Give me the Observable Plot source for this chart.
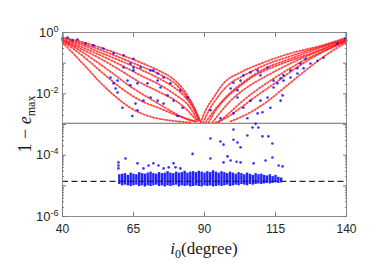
<!DOCTYPE html>
<html><head><meta charset="utf-8">
<script src="https://cdn.jsdelivr.net/npm/d3@7"></script>
<script src="https://cdn.jsdelivr.net/npm/@observablehq/plot@0.6"></script>
<style>body{margin:0;background:#fff}#chart{width:389px;height:275px}</style>
</head><body><div id="chart"></div>
<script>
// ---- tick values ----
const xTicks = [40, 65, 90, 115, 140];
const yLabelTicks = [1e0, 1e-2, 1e-4, 1e-6];
const yMajorTicks = [1e0, 1e-1, 1e-2, 1e-3, 1e-4, 1e-5, 1e-6];
const yMinorMultipliers = [2, 3, 4, 5, 6, 7, 8, 9];

// ---- reference levels ----
const solidLevel = 1.1e-3;
const dashedLevel = 1.4e-5;

// ---- red point families [i0 (deg), 1 - e_max] ----
const redL1 = [[40,0.69],[46.3,0.51],[53.4,0.32],[60.4,0.19],[67.5,0.105],[74.5,0.054],[78.7,0.032],[82.3,0.015],[85.1,0.006],[87.2,0.0025],[88.6,0.00126]];
const redL1b = [[40,0.66],[46.3,0.46],[53.4,0.27],[60.4,0.15],[67.5,0.08],[74.5,0.042],[79.5,0.022],[83,0.01],[86,0.004],[88.3,0.00126]];
const redL2 = [[40,0.59],[46.3,0.41],[53.4,0.22],[60.4,0.12],[67.5,0.062],[74.5,0.03],[79.8,0.015],[83.3,0.0076],[86.1,0.0033],[88.2,0.00126]];
const redL2b = [[40,0.57],[46.3,0.35],[53.4,0.18],[60.4,0.088],[67.5,0.04],[74.5,0.019],[80,0.009],[84.5,0.004],[87.8,0.00126]];
const redL3 = [[40,0.55],[46.3,0.3],[53.4,0.14],[60.4,0.058],[67.5,0.023],[74.5,0.011],[79.8,0.006],[84,0.0029],[87.5,0.00126]];
const redL3b = [[40,0.53],[45.5,0.28],[51.5,0.12],[57.5,0.048],[64,0.017],[71,0.0068],[77.5,0.003],[83,0.0016],[87,0.00122]];
const redL4 = [[40,0.51],[44.6,0.26],[49.9,0.105],[55.1,0.04],[60.4,0.016],[67.5,0.006],[74.5,0.0033],[80.8,0.0019],[86.8,0.00126]];
const redL5 = [[40,0.47],[43.5,0.22],[48.1,0.078],[53.4,0.023],[58.7,0.0081],[63.9,0.0035],[71,0.0018],[78,0.00135],[85.1,0.00117]];
const redR1 = [[88.6,0.00117],[90.4,0.0029],[93.2,0.0076],[96.7,0.022],[102.7,0.05],[110.8,0.105],[120.3,0.21],[131.9,0.39],[140,0.69]];
const redR1b = [[89.5,0.00117],[91.5,0.0028],[94.5,0.0075],[98.5,0.02],[103.5,0.038],[111,0.085],[120.3,0.17],[131,0.35],[140,0.63]];
const redR2 = [[90.4,0.00117],[91.4,0.0016],[94.9,0.0042],[99.2,0.011],[104.4,0.027],[111.5,0.068],[120.3,0.14],[130.8,0.32],[140,0.59]];
const redR2b = [[91.5,0.00117],[93.5,0.0025],[97,0.0065],[101.5,0.015],[107,0.036],[115,0.08],[124,0.16],[132,0.3],[140,0.57]];
const redR3 = [[92.8,0.00117],[95.6,0.0025],[99.2,0.006],[104.4,0.015],[111.5,0.037],[120.3,0.098],[130.8,0.26],[140,0.55]];
const redR3b = [[95,0.00117],[99,0.0025],[104,0.0065],[110,0.017],[117,0.045],[124,0.11],[132,0.25],[140,0.53]];
const redR4 = [[93.9,0.00117],[97.4,0.0016],[102.7,0.0035],[108,0.0081],[115,0.023],[122,0.068],[130.8,0.21],[140,0.51]];
const redR5 = [[99.2,0.00126],[106.2,0.0025],[112.5,0.006],[118.5,0.017],[125.6,0.058],[132.6,0.18],[140,0.47]];

// ---- blue scattered points [i0, 1 - e_max] ----
const bluePoints = [
 [40,0.63],[41.8,0.69],[43.5,0.55],[45.3,0.59],[48.1,0.44],[50.9,0.38],[54.4,0.30],[58,0.21],[61.5,0.18],[65,0.14],
 [56.9,0.034],[58,0.022],[62.9,0.027],[63.9,0.019],[66.4,0.022],[61.5,0.072],[65,0.058],[63.9,0.098],[67.5,0.072],[71,0.058],
 [73.5,0.046],[75.6,0.034],[69.9,0.022],[74.5,0.016],[59.4,0.011],[58.7,0.015],[61.1,0.0035],[64.6,0.0019],[66.4,0.0029],[65.7,0.0048],
 [68.5,0.006],[71,0.0076],[73.5,0.006],[75.6,0.0048],[77,0.0089],[79.1,0.006],[80.5,0.0019],[82.3,0.0035],[84,0.0076],[81.5,0.013],
 [78,0.022],[73.5,0.027],[72,0.058],[65,0.072],[59.4,0.027],
 [99.2,0.015],[100.2,0.023],[102.7,0.027],[103.7,0.04],[106.2,0.05],[108.7,0.058],[109.7,0.04],[112.2,0.072],[114.3,0.027],[116.8,0.032],
 [117.8,0.04],[120.3,0.058],[122.7,0.068],[123.8,0.098],[125.6,0.14],[101.6,0.0076],[106.2,0.006],[103.7,0.0035],[100.2,0.0023],[95.6,0.0016],
 [92.1,0.0029],[109.7,0.006],[112.2,0.0076],[113.2,0.0035],[116.8,0.006],[117.5,0.0089],[108.7,0.0023],[110.4,0.0025],[105.1,0.0016],[101.6,0.013],
 [139.6,0.63],[136.8,0.44],[127.3,0.098],[124.9,0.068],[122.7,0.046],[120.3,0.034],[117.8,0.027],[115.7,0.022],[114.3,0.016],[129.8,0.12],[131.9,0.15],
 [62.2,7.8e-5],[85.8,1.1e-4],[92.1,3.5e-4],[95.6,2.8e-4],[96.7,2.2e-4],[100.2,6.9e-4],[100.2,3.2e-4],[101.6,2.6e-4],[102.7,1.8e-4],[98.1,9.1e-5],
 [92.1,7.8e-5],[105.1,4.4e-4],[106.9,8.0e-4],[108,1.05e-3],[109,8.0e-4],[110.4,4.1e-4],[112.5,4.1e-4],[113.9,2.4e-4],[113.9,8.4e-5],[96.7,5.8e-5],
 [99.2,6.7e-5],[102.7,5.8e-5],[107.3,5.4e-5],[111.5,6.7e-5],[116.1,4.6e-5],[117.5,4.3e-5],[59.7,4.6e-5],[59.7,3.7e-5],[66.4,5.4e-5],[72,5.4e-5],
 [73.8,4.6e-5],[79.1,5.4e-5],[79.8,4.0e-5],[68.5,3.7e-5],[75.6,3.7e-5],[81.5,3.7e-5],[59.7,5.8e-5],[70.3,4.6e-5],[77.4,4.0e-5],[101.3,6.1e-5]
];

// ---- dense blue band: one column per degree ----
const bandX = [60,61,62,63,64,65,66,67,68,69,70,71,72,73,74,75,76,77,78,79,80,81,82,83,84,85,86,87,88,89,
 90,91,92,93,94,95,96,97,98,99,100,101,102,103,104,105,106,107,108,109,110,111,112,113,114,115,116,117];
const bandHi = [2.3e-5,2.4e-5,2.5e-5,2.2e-5,2.6e-5,2.4e-5,2.3e-5,2.7e-5,2.5e-5,2.4e-5,
 2.6e-5,2.8e-5,2.5e-5,2.4e-5,2.7e-5,2.5e-5,2.6e-5,2.9e-5,2.6e-5,2.5e-5,
 2.8e-5,2.6e-5,2.7e-5,3.0e-5,2.6e-5,2.8e-5,2.9e-5,2.7e-5,3.0e-5,2.8e-5,
 2.6e-5,2.9e-5,2.7e-5,3.1e-5,2.8e-5,2.6e-5,2.9e-5,2.7e-5,2.5e-5,2.8e-5,
 2.6e-5,2.4e-5,2.7e-5,2.5e-5,2.3e-5,2.6e-5,2.4e-5,2.2e-5,2.5e-5,2.3e-5,
 2.4e-5,2.2e-5,2.1e-5,2.3e-5,2.0e-5,2.2e-5,1.9e-5,1.8e-5];
const bandLo = [1.10e-5,1.00e-5,1.05e-5,1.00e-5,0.95e-5,1.00e-5,1.05e-5,0.95e-5,1.00e-5,0.92e-5,
 1.00e-5,0.95e-5,1.00e-5,1.05e-5,0.95e-5,1.00e-5,0.92e-5,1.00e-5,0.95e-5,1.00e-5,
 1.05e-5,0.92e-5,1.00e-5,0.95e-5,1.00e-5,0.92e-5,0.95e-5,1.00e-5,0.95e-5,0.92e-5,
 1.00e-5,0.95e-5,1.00e-5,0.92e-5,0.95e-5,1.00e-5,0.95e-5,1.00e-5,1.05e-5,0.95e-5,
 1.00e-5,1.05e-5,1.00e-5,1.10e-5,1.05e-5,1.00e-5,1.10e-5,1.05e-5,1.10e-5,1.15e-5,
 1.10e-5,1.15e-5,1.20e-5,1.15e-5,1.20e-5,1.25e-5,1.20e-5,1.25e-5];

// ---- build tables ----
const redFamilies = {L1: redL1, L1b: redL1b, L2: redL2, L2b: redL2b, L3: redL3, L3b: redL3b, L4: redL4, L5: redL5,
  R1: redR1, R1b: redR1b, R2: redR2, R2b: redR2b, R3: redR3, R3b: redR3b, R4: redR4, R5: redR5};
const redRows = Object.entries(redFamilies).flatMap(([k, pts]) => pts.map(([x, y]) => ({curve: k, x, y})));
const blueRows = bluePoints.map(([x, y]) => ({x, y}));
const bandRows = bandX.map((x, i) => ({x, lo: bandLo[i], hi: bandHi[i]}));
const yMinorTicks = yMajorTicks.slice(0, -1).flatMap(d => yMinorMultipliers.map(m => m * d / 10));

const tickStroke = "#7a7a7a";
const blank = () => "";

const plot = Plot.plot({
  width: 389, height: 275,
  marginLeft: 62, marginRight: 43, marginTop: 32, marginBottom: 59,
  style: {fontFamily: "'Liberation Sans', Arial, sans-serif", fontSize: "12px", color: "#262626", background: "white"},
  x: {domain: [40, 140], label: null},
  y: {type: "log", domain: [1e-6, 1], label: null},
  marks: [
    Plot.ruleY([solidLevel], {stroke: "#6a6a6a", strokeWidth: 1.2}),
    Plot.ruleX(bandRows, {x: "x", y1: "lo", y2: "hi", stroke: "#0a0aff", strokeWidth: 2.4, strokeOpacity: 0.9}),
    Plot.ruleY([dashedLevel], {stroke: "#2b2b2b", strokeWidth: 1.3, strokeDasharray: "6,3.5"}),
    Plot.line(redRows, {x: "x", y: "y", z: "curve", stroke: "#ff1a1a", strokeWidth: 1.8, strokeOpacity: 0.8, strokeDasharray: "1.4,1.9", curve: "monotone-x"}),
    Plot.dot(blueRows, {x: "x", y: "y", r: 1.3, fill: "#1010ff", fillOpacity: 0.85}),
    Plot.frame({stroke: "#8c8c8c"}),
    Plot.axisX(xTicks, {anchor: "bottom", tickSize: 0, tickPadding: 8, fontSize: 12, label: null}),
    Plot.axisX(xTicks, {anchor: "bottom", tickSize: 4, dy: -4, tickFormat: blank, stroke: tickStroke, label: null}),
    Plot.axisX(xTicks, {anchor: "top", tickSize: 4, dy: 4, tickFormat: blank, stroke: tickStroke, label: null}),
    Plot.axisY(yLabelTicks, {anchor: "left", tickSize: 0, tickPadding: 4, fontSize: 13, tickFormat: d => "10^" + Math.round(Math.log10(d)), label: null}),
    Plot.axisY(yMajorTicks, {anchor: "left", tickSize: 4, dx: 4, tickFormat: blank, stroke: tickStroke, label: null}),
    Plot.axisY(yMajorTicks, {anchor: "right", tickSize: 4, dx: -4, tickFormat: blank, stroke: tickStroke, label: null}),
    Plot.axisY(yMinorTicks, {anchor: "left", tickSize: 2, dx: 2, tickFormat: blank, stroke: tickStroke, label: null}),
    Plot.axisY(yMinorTicks, {anchor: "right", tickSize: 2, dx: -2, tickFormat: blank, stroke: tickStroke, label: null})
  ]
});

// superscript exponents on the y tick labels
plot.querySelectorAll('g[aria-label="y-axis tick label"] text').forEach(t => {
  const s = t.textContent;
  if (!s.includes("^")) return;
  const [base, exp] = s.split("^");
  t.textContent = "";
  const ns = "http://www.w3.org/2000/svg";
  const a = document.createElementNS(ns, "tspan"); a.textContent = base; t.appendChild(a);
  const b = document.createElementNS(ns, "tspan"); b.textContent = exp;
  b.setAttribute("dy", "-0.55em"); b.setAttribute("font-size", "9"); t.appendChild(b);
});

// axis titles (LaTeX-like serif)
const svg = d3.select(plot);
const serif = "'Liberation Serif', 'DejaVu Serif', serif";
const xt = svg.append("text").attr("x", 204).attr("y", 254).attr("text-anchor", "middle")
  .attr("font-family", serif).attr("font-size", 17).attr("fill", "#1a1a1a");
xt.append("tspan").attr("font-style", "italic").text("i");
xt.append("tspan").attr("font-size", 12).attr("dy", 4).text("0");
xt.append("tspan").attr("dy", -4).text("(degree)");
const yt = svg.append("text").attr("transform", "translate(31,124) rotate(-90)").attr("text-anchor", "middle")
  .attr("font-family", serif).attr("font-size", 18).attr("fill", "#1a1a1a");
yt.append("tspan").text("1 \u2212 ");
yt.append("tspan").attr("font-style", "italic").text("e");
yt.append("tspan").attr("font-size", 12).attr("dy", 4).text("max");

document.getElementById("chart").appendChild(plot);
</script></body></html>
